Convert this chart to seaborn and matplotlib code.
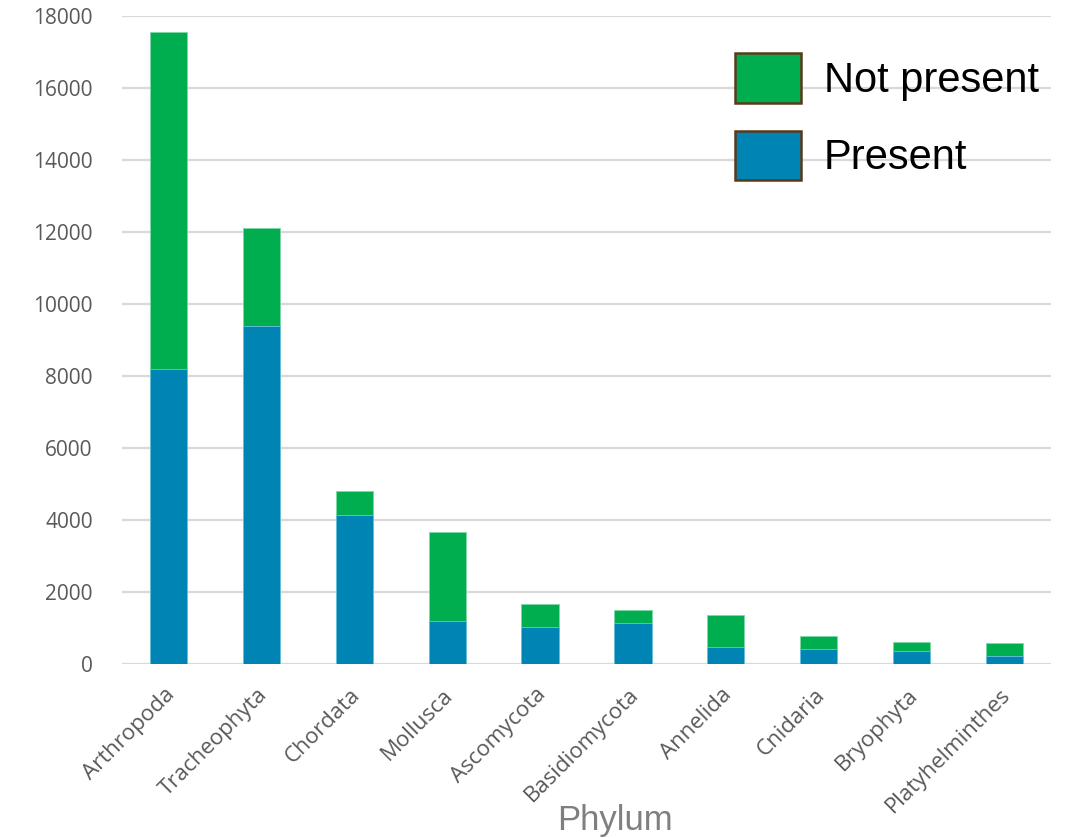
import matplotlib
matplotlib.use("Agg")
import matplotlib.pyplot as plt
import matplotlib.transforms as mtransforms
from matplotlib.patches import Patch
import pandas as pd
import seaborn as sns

phyla = ["Arthropoda", "Tracheophyta", "Chordata", "Mollusca", "Ascomycota",
         "Basidiomycota", "Annelida", "Cnidaria", "Bryophyta", "Platyhelminthes"]
present = [8190, 9390, 4140, 1200, 1040, 1130, 470, 410, 350, 215]
not_present = [9360, 2720, 670, 2470, 620, 370, 880, 370, 270, 360]
y_ticks = [0, 2000, 4000, 6000, 8000, 10000, 12000, 14000, 16000, 18000]

GREEN = "#00AE4F"
BLUE = "#0084B4"
TICK_GREY = "#595959"

df = pd.DataFrame({"Phylum": phyla, "Present": present, "Not present": not_present})
df["Total"] = df["Present"] + df["Not present"]

sns.set_theme(style="white")
plt.rcParams["font.family"] = ["Open Sans", "DejaVu Sans"]

fig = plt.figure(figsize=(10.66, 8.38), dpi=100)
ax = fig.add_axes([122 / 1066, 1 - 664 / 838, 929 / 1066, 648 / 838])

# stacked columns: full height in green, present share drawn over it in blue
sns.barplot(data=df, x="Phylum", y="Total", order=phyla, color=GREEN, width=0.40,
            saturation=1, edgecolor="#7fd6a6", linewidth=0.6, ax=ax, zorder=2)
sns.barplot(data=df, x="Phylum", y="Present", order=phyla, color=BLUE, width=0.40,
            saturation=1, edgecolor="#6cc3e0", linewidth=0.6, ax=ax, zorder=3)

ax.set_ylim(0, 18000)
ax.set_xlim(-0.5, 9.5)
ax.set_yticks(y_ticks)
ax.set_yticklabels([str(v) for v in y_ticks])
ax.yaxis.grid(True, color="#d9d9d9", linewidth=1.6, zorder=0)
ax.set_axisbelow(True)
for s in ax.spines.values():
    s.set_visible(False)

ax.tick_params(axis="y", length=0, pad=21, labelsize=15, labelcolor=TICK_GREY)
ax.tick_params(axis="x", length=0, pad=20, labelsize=16, labelcolor=TICK_GREY)

offset = mtransforms.ScaledTranslation(3 / 100, 0, fig.dpi_scale_trans)
for lbl in ax.get_xticklabels():
    lbl.set_rotation(45)
    lbl.set_ha("right")
    lbl.set_va("center")
    lbl.set_rotation_mode("anchor")
    lbl.set_transform(lbl.get_transform() + offset)

ax.set_ylabel("")
ax.set_xlabel("Phylum", fontsize=25, color="#7f7f7f", family="Liberation Sans")
ax.xaxis.set_label_coords(0.531, -0.256)
ax.xaxis.label.set_va("baseline")

handles = [Patch(facecolor=GREEN, edgecolor="#5a3a1a", linewidth=1.8),
           Patch(facecolor=BLUE, edgecolor="#5a3a1a", linewidth=1.8)]
ax.legend(handles, ["Not present", "Present"], loc="upper right",
          bbox_to_anchor=(1.0, 0.962), frameon=False,
          prop={"family": "Liberation Sans", "size": 30}, labelcolor="black",
          handlelength=1.57, handleheight=1.45, handletextpad=0.55,
          labelspacing=0.68, borderaxespad=0, borderpad=0.3)

fig.savefig("out.png", dpi=100)
